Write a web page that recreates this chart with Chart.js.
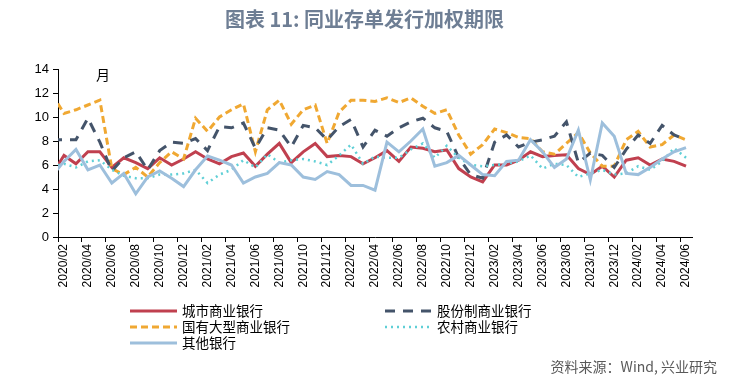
<!DOCTYPE html>
<html>
<head>
<meta charset="utf-8">
<script src="https://cdn.jsdelivr.net/npm/chart.js@4.4.1/dist/chart.umd.min.js"></script>
<style>
  html, body { margin: 0; padding: 0; background: #fff; }
  #wrap { position: relative; width: 729px; height: 390px; font-family: "Noto Sans CJK SC", "Noto Sans", sans-serif; }
  #chart { position: absolute; left: 0; top: 0; }
  .title { position: absolute; left: 0; width: 729px; top: 4px; text-align: center; font-size: 20px; font-weight: bold; color: #6e7e94; }
  .unit { position: absolute; left: 96px; top: 64px; font-size: 14px; color: #000; }
  .source { position: absolute; right: 12px; top: 356px; font-size: 14px; color: #595959; }
  .legend-item { position: absolute; font-size: 13.5px; color: #000; height: 16px; line-height: 16px; white-space: nowrap; }
  .legend-item svg { vertical-align: middle; margin-right: 5px; position: relative; top: -1px; }
</style>
</head>
<body>
<div id="wrap">
  <canvas id="chart" width="729" height="390"></canvas>
  <div class="title">图表 11: 同业存单发行加权期限</div>
  <div class="unit">月</div>
  <div id="legend"></div>
  <div class="source">资料来源：Wind, 兴业研究</div>
</div>
<script>
// month labels, first one only feeds the clipped stub at the left edge
const months = [
  '2020/01','2020/02','2020/03','2020/04','2020/05','2020/06','2020/07','2020/08','2020/09','2020/10','2020/11','2020/12',
  '2021/01','2021/02','2021/03','2021/04','2021/05','2021/06','2021/07','2021/08','2021/09','2021/10','2021/11','2021/12',
  '2022/01','2022/02','2022/03','2022/04','2022/05','2022/06','2022/07','2022/08','2022/09','2022/10','2022/11','2022/12',
  '2023/01','2023/02','2023/03','2023/04','2023/05','2023/06','2023/07','2023/08','2023/09','2023/10','2023/11','2023/12',
  '2024/01','2024/02','2024/03','2024/04','2024/05','2024/06'
];

const cityBanks = [5.2,
  6.8, 6.1, 7.1, 7.1, 5.8, 6.6, 6.2, 5.7, 6.6, 6.0, 6.5, 7.1,
  6.5, 6.1, 6.7, 7.0, 5.9, 6.9, 7.8, 6.2, 7.1, 7.8, 6.7, 6.8,
  6.7, 6.1, 6.6, 7.2, 6.3, 7.5, 7.4, 7.1, 7.25, 5.7, 5.0, 4.6,
  6.0, 6.0, 6.4, 7.1, 6.7, 6.8, 6.85, 5.7, 5.2, 5.9, 5.0, 6.4,
  6.6, 6.0, 6.5, 6.3, 5.9];

const jointStockBanks = [8.1,
  8.1, 8.1, 9.9, 7.9, 5.5, 6.6, 7.1, 5.6, 7.2, 7.9, 7.8, 8.2,
  7.2, 9.2, 9.1, 9.5, 7.4, 9.1, 8.9, 7.5, 9.3, 9.1, 8.1, 9.2,
  9.8, 7.5, 8.9, 8.4, 9.1, 9.6, 9.9, 9.1, 8.8, 6.6, 5.2, 4.9,
  7.9, 8.5, 7.5, 7.9, 8.1, 8.4, 9.6, 6.2, 7.0, 6.8, 5.8, 7.3,
  8.5, 7.8, 9.3, 8.5, 8.1];

const bigBanks = [11.9,
  10.3, 10.6, 11.0, 11.4, 5.7, 5.2, 5.8, 5.0, 6.2, 7.1, 6.5, 9.9,
  8.8, 10.0, 10.6, 11.1, 7.1, 10.6, 11.4, 9.4, 10.6, 11.0, 7.8, 10.4,
  11.4, 11.4, 11.3, 11.6, 11.2, 11.6, 10.9, 10.3, 10.6, 8.5, 6.9, 7.7,
  9.0, 8.7, 8.3, 8.2, 7.1, 6.9, 7.8, 8.7, 7.0, 5.9, 5.9, 8.1,
  8.8, 7.5, 7.7, 8.5, 8.1];

const ruralBanks = [5.9,
  6.1, 5.8, 6.3, 6.4, 5.6, 5.1, 4.9, 4.9, 5.2, 5.2, 5.3, 5.6,
  4.5, 5.2, 5.6, 6.4, 5.8, 6.9, 6.2, 6.4, 6.5, 6.3, 6.0, 6.8,
  7.7, 6.1, 6.7, 6.6, 6.6, 7.3, 7.8, 6.6, 7.6, 6.6, 6.0, 5.9,
  6.0, 6.1, 6.3, 6.8, 5.7, 6.1, 6.0, 5.0, 5.3, 5.6, 5.2, 5.3,
  5.9, 5.6, 6.3, 7.4, 6.6];

const otherBanks = [5.1,
  6.3, 7.3, 5.6, 6.0, 4.5, 5.3, 3.6, 5.0, 5.5, 4.9, 4.2, 5.6,
  6.75, 6.4, 6.0, 4.5, 5.0, 5.3, 6.2, 6.0, 5.0, 4.8, 5.45, 5.2,
  4.3, 4.3, 3.9, 7.9, 7.1, 8.0, 9.0, 5.9, 6.2, 6.8, 6.0, 5.2,
  5.1, 6.3, 6.4, 8.1, 7.1, 5.8, 6.5, 8.9, 4.75, 9.5, 8.4, 5.3,
  5.2, 5.8, 6.5, 7.1, 7.45];

const yTicks = [0, 2, 4, 6, 8, 10, 12, 14];

const series = [
  { label: '城市商业银行', data: cityBanks, color: '#c0404f', dash: [], width: 3 },
  { label: '股份制商业银行', data: jointStockBanks, color: '#44546a', dash: [10, 8], width: 3 },
  { label: '国有大型商业银行', data: bigBanks, color: '#f0a832', dash: [7, 4], width: 3 },
  { label: '农村商业银行', data: ruralBanks, color: '#5fcfd6', dash: [2, 4], width: 2.5 },
  { label: '其他银行', data: otherBanks, color: '#9dbfdc', dash: [], width: 3 }
];

// draw order: other banks at the back, city banks on top
const drawOrder = [4, 3, 1, 2, 0];

const datasets = series.map((s, i) => ({
  label: s.label,
  data: s.data,
  borderColor: s.color,
  backgroundColor: s.color,
  borderWidth: s.width,
  borderDash: s.dash,
  pointRadius: 0,
  tension: 0,
  fill: false,
  order: drawOrder.indexOf(i)
}));

new Chart(document.getElementById('chart'), {
  type: 'line',
  data: { labels: months, datasets },
  options: {
    responsive: false,
    animation: false,
    layout: { padding: { left: 0, top: 69, right: 37, bottom: 83 } },
    plugins: {
      legend: { display: false },
      tooltip: { enabled: false }
    },
    scales: {
      x: {
        type: 'category',
        min: '2020/02',
        offset: true,
        afterFit: (scale) => { scale.height = 70; },
        border: { display: true, color: '#000', width: 1 },
        grid: {
          offset: true,
          drawOnChartArea: false,
          drawTicks: true,
          tickLength: 5,
          color: (ctx) => (ctx.index % 2 === 0 ? '#000' : 'rgba(0,0,0,0)')
        },
        ticks: {
          autoSkip: false,
          minRotation: 90,
          maxRotation: 90,
          padding: 2,
          color: '#000',
          font: { family: 'Liberation Sans, DejaVu Sans, sans-serif', size: 12 },
          callback: function (value, index) {
            return index % 2 === 0 ? this.getLabelForValue(value) : '';
          }
        }
      },
      y: {
        min: yTicks[0],
        max: yTicks[yTicks.length - 1],
        afterFit: (scale) => { scale.width = 58; },
        afterBuildTicks: (scale) => { scale.ticks = yTicks.map(v => ({ value: v })); },
        border: { display: true, color: '#000', width: 1 },
        grid: { drawOnChartArea: false, drawTicks: true, tickLength: 5, color: '#000' },
        ticks: {
          color: '#000',
          padding: 4,
          font: { family: 'Liberation Sans, DejaVu Sans, sans-serif', size: 13 }
        }
      }
    }
  }
});

// legend in two columns, built from the series styles
const legendPos = [
  { left: 130, top: 302 }, { left: 385, top: 302 },
  { left: 130, top: 318 }, { left: 385, top: 318 },
  { left: 130, top: 334 }
];
const legendEl = document.getElementById('legend');
series.forEach((s, i) => {
  const item = document.createElement('div');
  item.className = 'legend-item';
  item.style.left = legendPos[i].left + 'px';
  item.style.top = legendPos[i].top + 'px';
  const dash = s.dash.length ? `stroke-dasharray="${s.dash.join(' ')}"` : '';
  item.innerHTML = `<svg width="47" height="6"><line x1="0" y1="3" x2="47" y2="3" stroke="${s.color}" stroke-width="${s.width}" ${dash}/></svg>${s.label}`;
  legendEl.appendChild(item);
});
</script>
</body>
</html>
